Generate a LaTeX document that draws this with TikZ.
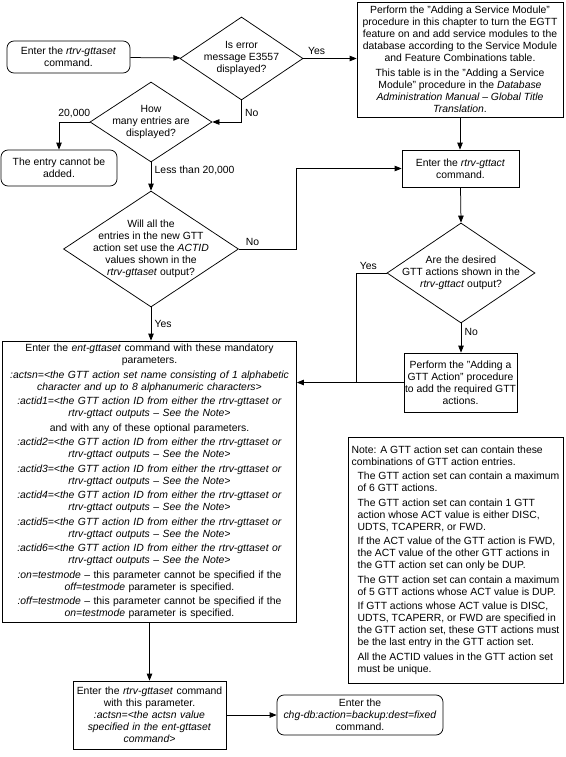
\documentclass[tikz,border=0pt]{standalone}
\usepackage{fontspec}
\setmainfont{Liberation Sans}
\usetikzlibrary{arrows.meta,shapes.geometric}

\newcommand{\actidpar}[1]{\textit{:actid#1=<the GTT action ID from either the rtrv-gttaset or}\\\textit{rtrv-gttact outputs -- See the Note>}}

\tikzset{
    every node/.style={font=\fontsize{10.4}{12}\selectfont},
    flowbox/.style={draw,line width=0.75pt,align=center,inner xsep=1.5pt,inner ysep=3pt},
    roundbox/.style={flowbox,rounded corners=7pt},
    decision/.style={draw,line width=0.75pt,diamond,inner sep=0pt},
    wire/.style={line width=0.75pt},
    link/.style={wire,-{Triangle[length=7pt,width=5.5pt]}}
}

\begin{document}
\begin{tikzpicture}[x=1pt,y=-1pt]
            \useasboundingbox (0,0) rectangle (565,757);
            \node[roundbox,minimum width=123pt,minimum height=32pt] (start) at (68.5,57)
                {Enter the \textit{rtrv-gttaset}\\command.};
            \node[decision,minimum width=123pt,minimum height=83pt] (error) at (241.5,58.5) {};
            \node[align=center] (errortext) at (error) {Is error\\message E3557\\displayed?};
            \node[flowbox,minimum width=206pt,minimum height=115pt] (addmodule) at (460,59.5)
                {Perform the "Adding a Service Module"\\
                 procedure in this chapter to turn the EGTT\\
                 feature on and add service modules to the\\
                 database according to the Service Module\\
                 and Feature Combinations table.\\[2.5pt]
                 This table is in the "Adding a Service\\
                 Module" procedure in the \textit{Database}\\
                 \textit{Administration Manual -- Global Title}\\
                 \textit{Translation}.};
            \node[decision,minimum width=122pt,minimum height=80pt] (count) at (151,122) {};
            \node[align=center] (counttext) at (count) {How\\many entries are\\displayed?};
            \node[roundbox,minimum width=116pt,minimum height=36pt] (full) at (59,168)
                {The entry cannot be\\added.};
            \node[decision,minimum width=175pt,minimum height=116pt] (actid) at (151,249) {};
            \node[align=center] (actidtext) at (actid)
                {Will all the\\entries in the new GTT\\action set use the \textit{ACTID}\\
                 values shown in the\\\textit{rtrv-gttaset} output?};
            \node[flowbox,minimum width=117pt,minimum height=37pt] (gttact) at (460.5,168.5)
                {Enter the \textit{rtrv-gttact}\\command.};
            \node[decision,minimum width=148pt,minimum height=100pt] (desired) at (461,273) {};
            \node[align=center] (desiredtext) at (desired)
                {Are the desired\\GTT actions shown in the\\\textit{rtrv-gttact} output?};
            \node[flowbox,inner xsep=1pt,minimum width=113pt,minimum height=59pt] (addaction) at (460.5,382.5)
                {Perform the "Adding a\\GTT Action" procedure\\to add the required GTT\\actions.};
            \node[flowbox,text width=291pt,minimum height=281pt] (entset) at (149.5,481.5)
                {Enter the \textit{ent-gttaset} command with these mandatory\\
                 parameters.\\[2.5pt]
                 \textit{:actsn=<the GTT action set name consisting of 1 alphabetic}\\
                 \textit{character and up to 8 alphanumeric characters>}\\[2.5pt]
                 \actidpar{1}\\[2.5pt]
                 and with any of these optional parameters.\\[2.5pt]
                 \actidpar{2}\\[2.5pt]
                 \actidpar{3}\\[2.5pt]
                 \actidpar{4}\\[2.5pt]
                 \actidpar{5}\\[2.5pt]
                 \actidpar{6}\\[2.5pt]
                 \textit{:on=testmode} -- this parameter cannot be specified if the\\
                 \textit{off=testmode} parameter is specified.\\[2.5pt]
                 \textit{:off=testmode} -- this parameter cannot be specified if the\\
                 \textit{on=testmode} parameter is specified.};
            \node[flowbox,align=left,inner xsep=2.5pt,minimum width=215pt,minimum height=246pt] (note) at (455.5,560)
                {Note: A GTT action set can contain these\\
                 combinations of GTT action entries.\\[2.5pt]
                 \hspace*{6pt}The GTT action set can contain a maximum\\
                 \hspace*{6pt}of 6 GTT actions.\\[2.5pt]
                 \hspace*{6pt}The GTT action set can contain 1 GTT\\
                 \hspace*{6pt}action whose ACT value is either DISC,\\
                 \hspace*{6pt}UDTS, TCAPERR, or FWD.\\[2.5pt]
                 \hspace*{6pt}If the ACT value of the GTT action is FWD,\\
                 \hspace*{6pt}the ACT value of the other GTT actions in\\
                 \hspace*{6pt}the GTT action set can only be DUP.\\[2.5pt]
                 \hspace*{6pt}The GTT action set can contain a maximum\\
                 \hspace*{6pt}of 5 GTT actions whose ACT value is DUP.\\[2.5pt]
                 \hspace*{6pt}If GTT actions whose ACT value is DISC,\\
                 \hspace*{6pt}UDTS, TCAPERR, or FWD are specified in\\
                 \hspace*{6pt}the GTT action set, these GTT actions must\\
                 \hspace*{6pt}be the last entry in the GTT action set.\\[2.5pt]
                 \hspace*{6pt}All the ACTID values in the GTT action set\\
                 \hspace*{6pt}must be unique.};
            \node[flowbox,text width=150pt,minimum height=68pt] (verify) at (149.5,715)
                {Enter the \textit{rtrv-gttaset} command\\with this parameter.\\
                 \textit{:actsn=<the actsn value}\\\textit{specified in the ent-gttaset}\\
                 \textit{command>}};
            \node[roundbox,minimum width=166pt,minimum height=40pt] (backup) at (360,715)
                {Enter the\\\textit{chg-db:action=backup:dest=fixed}\\command.};
            \coordinate (bendno) at (296,168.5);
            \coordinate (bendyes) at (356,382.5);
            \draw[link] (start) -- (error);
            \draw[link] (error.east) -- node[above,pos=0.25]{Yes} (error.east -| addmodule.west);
            \draw[link] (error.south) |- node[right,pos=0.3]{No} (count.east);
            \draw[link] (count.west) -| node[above,pos=0.25]{20,000} (full.north);
            \draw[link] (count.south) -- node[right,pos=0.3]{Less than 20,000} (actid.north);
            \draw[link] (actid.east) -| node[above,pos=0.12]{No} (bendno) -- (gttact.west);
            \draw[link] (actid.south) -- node[right,pos=0.5]{Yes} (actid.south |- entset.north);
            \draw[link] (addmodule.south) -- (addmodule.south |- gttact.north);
            \draw[link] (gttact.south) -- (desired.north);
            \draw[link] (desired.south) -- node[right,pos=0.3]{No} (desired.south |- addaction.north);
            \draw[wire] (desired.west) -| node[above,pos=0.3]{Yes} (bendyes);
            \draw[link] (addaction.west) -- (addaction.west -| entset.east);
            \draw[link] (entset.south) -- (verify.north);
            \draw[link] (verify.east) -- (backup.west);
\end{tikzpicture}
\end{document}
